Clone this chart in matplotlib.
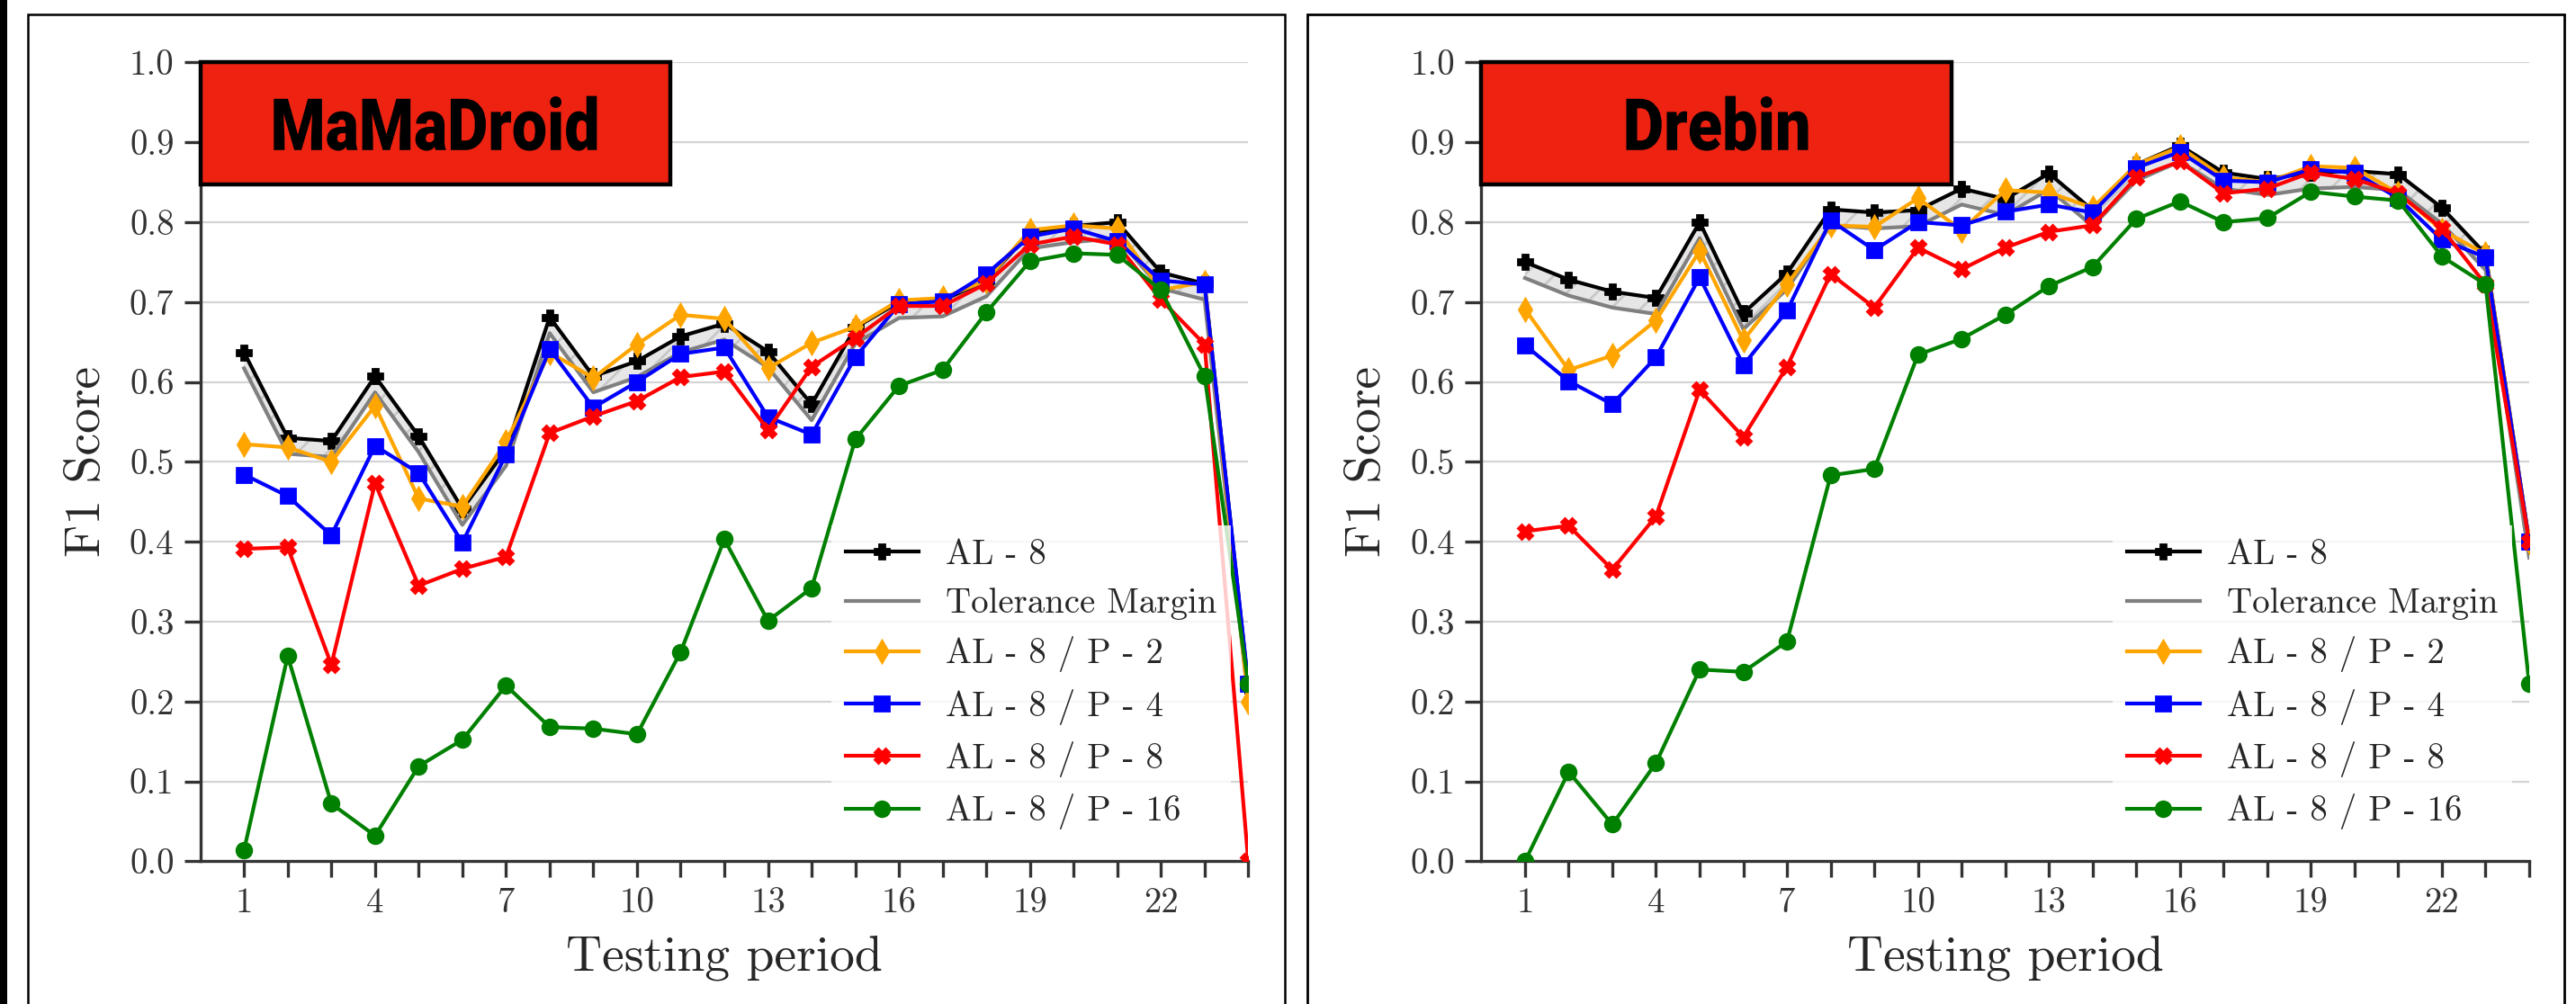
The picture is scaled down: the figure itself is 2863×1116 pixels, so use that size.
import matplotlib
matplotlib.use("Agg")
from matplotlib import pyplot as plt
from matplotlib.patches import Rectangle, PathPatch
from matplotlib.textpath import TextPath
from matplotlib.font_manager import FontProperties
from matplotlib.transforms import Affine2D

plt.rcParams['font.family'] = 'serif'
plt.rcParams['font.serif'] = ['cmr10']
plt.rcParams['mathtext.fontset'] = 'cm'
plt.rcParams['axes.formatter.use_mathtext'] = True
plt.rcParams['text.color'] = '#262626'
plt.rcParams['axes.labelcolor'] = '#262626'
plt.rcParams['hatch.linewidth'] = 1.0

W, H = 2863, 1116

periods = list(range(1, 25))
tick_labels = [str(p) if (p - 1) % 3 == 0 else "" for p in periods]
TOLERANCE = 0.02

# MaMaDroid
mama_al8 = [0.637, 0.530, 0.526, 0.607, 0.532, 0.441, 0.515, 0.681, 0.607, 0.626, 0.657, 0.673,
            0.638, 0.572, 0.668, 0.700, 0.702, 0.727, 0.787, 0.795, 0.800, 0.737, 0.723, 0.220]
mama_p2 = [0.522, 0.518, 0.500, 0.570, 0.454, 0.444, 0.525, 0.637, 0.605, 0.647, 0.684, 0.679,
           0.617, 0.649, 0.669, 0.702, 0.705, 0.727, 0.790, 0.796, 0.792, 0.715, 0.725, 0.200]
mama_p4 = [0.484, 0.457, 0.408, 0.520, 0.486, 0.399, 0.509, 0.641, 0.568, 0.600, 0.635, 0.643,
           0.556, 0.534, 0.631, 0.697, 0.701, 0.735, 0.782, 0.792, 0.776, 0.727, 0.722, 0.222]
mama_p8 = [0.391, 0.393, 0.246, 0.473, 0.345, 0.366, 0.381, 0.536, 0.557, 0.576, 0.606, 0.613,
           0.540, 0.619, 0.655, 0.695, 0.695, 0.723, 0.772, 0.782, 0.772, 0.703, 0.647, 0.000]
mama_p16 = [0.014, 0.257, 0.072, 0.032, 0.119, 0.152, 0.220, 0.168, 0.166, 0.159, 0.262, 0.403,
            0.301, 0.342, 0.528, 0.595, 0.615, 0.687, 0.751, 0.761, 0.759, 0.715, 0.607, 0.222]

# Drebin
dre_al8 = [0.750, 0.728, 0.713, 0.705, 0.800, 0.686, 0.736, 0.816, 0.812, 0.815, 0.842, 0.829,
           0.861, 0.815, 0.872, 0.896, 0.862, 0.854, 0.862, 0.864, 0.860, 0.818, 0.760, 0.400]
dre_p2 = [0.691, 0.615, 0.633, 0.677, 0.764, 0.652, 0.722, 0.796, 0.794, 0.830, 0.790, 0.840,
          0.837, 0.818, 0.872, 0.894, 0.856, 0.850, 0.870, 0.868, 0.836, 0.790, 0.760, 0.400]
dre_p4 = [0.646, 0.601, 0.572, 0.631, 0.731, 0.621, 0.689, 0.802, 0.765, 0.800, 0.796, 0.813,
          0.822, 0.812, 0.868, 0.888, 0.852, 0.850, 0.866, 0.862, 0.830, 0.778, 0.756, 0.400]
dre_p8 = [0.413, 0.420, 0.365, 0.432, 0.590, 0.531, 0.619, 0.735, 0.693, 0.768, 0.741, 0.768,
          0.788, 0.796, 0.856, 0.876, 0.836, 0.842, 0.862, 0.854, 0.836, 0.792, 0.722, 0.400]
dre_p16 = [0.000, 0.112, 0.046, 0.123, 0.240, 0.237, 0.275, 0.483, 0.491, 0.634, 0.654, 0.684,
           0.720, 0.744, 0.804, 0.826, 0.800, 0.805, 0.838, 0.832, 0.827, 0.757, 0.722, 0.222]

series_labels = ['AL - 8 / P - 2', 'AL - 8 / P - 4', 'AL - 8 / P - 8', 'AL - 8 / P - 16']
series_colors = ['orange', 'blue', 'red', 'green']
series_markers = ['d', 's', 'X', 'o']


def condensed_title(fig, name, center_x, baseline_y, width_px, cap_px):
    # squeeze a heavy sans text into the box, like the condensed font of the original
    prop = FontProperties(family=['Roboto', 'DejaVu Sans'], weight='black')
    tp = TextPath((0, 0), name, size=1, prop=prop)
    ext = tp.get_extents()
    cap = TextPath((0, 0), 'M', size=1, prop=prop).get_extents().height
    sx = width_px / ext.width
    sy = cap_px / cap
    x0 = center_x - (ext.x0 + ext.width / 2) * sx
    tr = Affine2D().scale(sx / W, sy / H).translate(x0 / W, baseline_y / H) + fig.transFigure
    fig.add_artist(PathPatch(tp, transform=tr, facecolor='black', edgecolor='none', zorder=10))


def plot_panel(ax, name, al8, others):
    margin = [v - TOLERANCE for v in al8]
    ax.fill_between(periods, margin, al8, facecolor='#e6e6e6', edgecolor='#c8c8c8',
                    hatch='//', linewidth=0, zorder=2)
    ax.plot(periods, al8, color='black', marker='P', markersize=6, linewidth=1.5,
            label='AL - 8', zorder=3)
    ax.plot(periods, margin, color='#808080', linewidth=1.5, label='Tolerance Margin', zorder=3)
    for vals, lab, col, mk in zip(others, series_labels, series_colors, series_markers):
        ax.plot(periods, vals, color=col, marker=mk, markersize=6, linewidth=1.5, label=lab, zorder=3)

    ax.set_xlim(0, 24)
    ax.set_ylim(0, 1.0)
    ax.set_xticks(periods)
    ax.set_xticklabels(tick_labels)
    ax.set_yticks([i / 10 for i in range(11)])
    ax.set_yticklabels(['%.1f' % (i / 10) for i in range(11)])
    ax.grid(axis='y', color='#d4d4d4', linewidth=0.8, zorder=0)
    ax.set_axisbelow(True)
    for s in ['top', 'right']:
        ax.spines[s].set_visible(False)
    for s in ['left', 'bottom']:
        ax.spines[s].set_color('#333333')
        ax.spines[s].set_linewidth(1.2)
    ax.tick_params(axis='both', direction='out', length=6.5, width=1.2, color='#333333',
                   labelsize=14, labelcolor='#333333', pad=4)
    ax.set_xlabel('Testing period', fontsize=20, labelpad=6)
    ax.set_ylabel('F1 Score', fontsize=20, labelpad=8)

    leg = ax.legend(loc='lower right', fontsize=14, frameon=True, framealpha=0.8, fancybox=False,
                    edgecolor='none', handlelength=2.08, handletextpad=0.77, labelspacing=0.47,
                    borderpad=0.4, borderaxespad=0.5)
    leg.set_zorder(6)

    ax.add_patch(Rectangle((0, 0.847), 0.4485, 0.153, transform=ax.transAxes, facecolor='#ee2211',
                           edgecolor='black', linewidth=1.6, clip_on=False, zorder=7))


fig = plt.figure(figsize=(W / 200, H / 200), dpi=200)
ax1 = fig.add_axes([0.07779, 0.14220, 0.40678, 0.79570])
ax2 = fig.add_axes([0.57506, 0.14220, 0.40678, 0.79570])

plot_panel(ax1, 'MaMaDroid', mama_al8, [mama_p2, mama_p4, mama_p8, mama_p16])
plot_panel(ax2, 'Drebin', dre_al8, [dre_p2, dre_p4, dre_p8, dre_p16])

condensed_title(fig, 'MaMaDroid', 483.8, H - 166.8, 359, 57)
condensed_title(fig, 'Drebin', 1908.5, H - 166.8, 202, 57)

# panel frames
fig.add_artist(Rectangle((0.01083, -0.1), 0.49867 - 0.01083, 0.98566 + 0.1, transform=fig.transFigure,
                         facecolor='none', edgecolor='black', linewidth=0.9))
fig.add_artist(Rectangle((0.50762, -0.1), 0.99546 - 0.50762, 0.98566 + 0.1, transform=fig.transFigure,
                         facecolor='none', edgecolor='black', linewidth=1.0))
fig.add_artist(Rectangle((0, -0.1), 0.0028, 1.2, transform=fig.transFigure,
                         facecolor='black', edgecolor='none'))

plt.savefig('out.png', dpi=200)
